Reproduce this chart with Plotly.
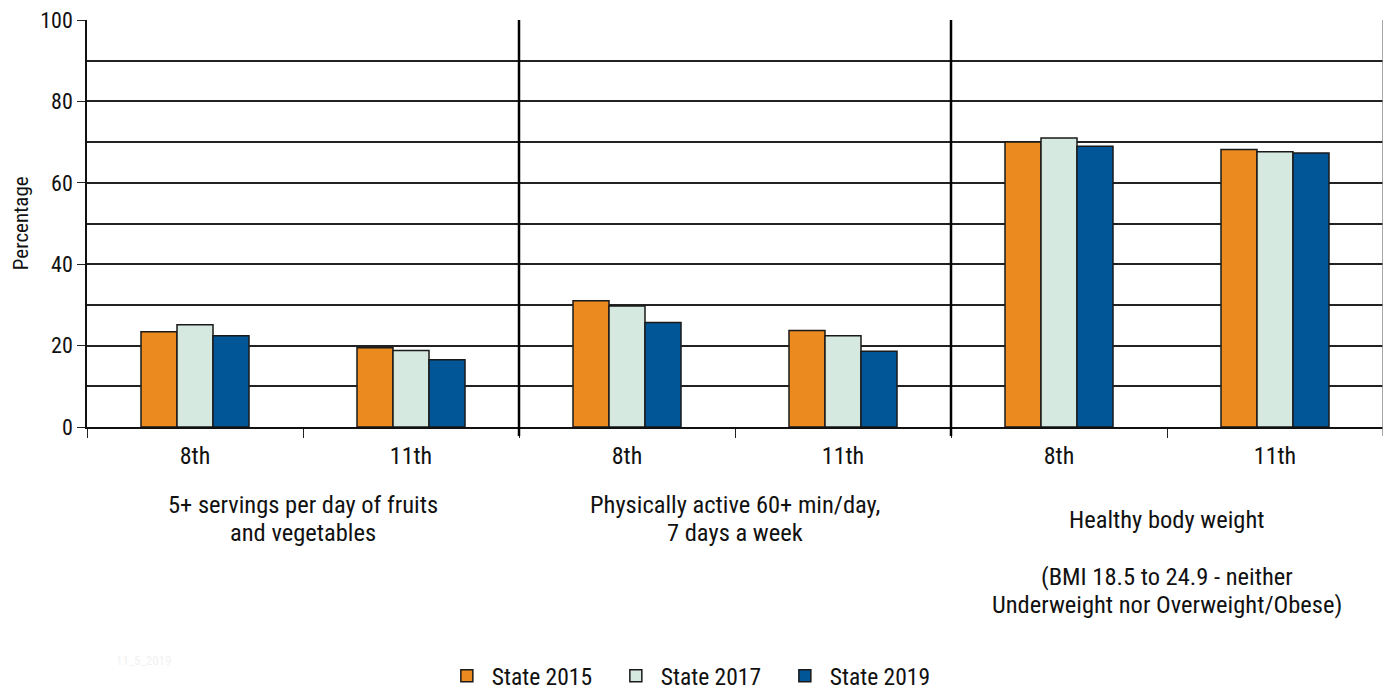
import plotly.graph_objects as go

grades = ["8th", "11th"]
indicator_ids = ["fv", "pa", "hw"]
indicator_labels = [
    ["5+ servings per day of fruits", "and vegetables"],
    ["Physically active 60+ min/day,", "7 days a week"],
    ["Healthy body weight", "", "(BMI 18.5 to 24.9 - neither", "Underweight nor Overweight/Obese)"],
]
series_names = ["State 2015", "State 2017", "State 2019"]
state_2015 = [23.4, 19.5, 31.0, 23.7, 70.0, 68.2]
state_2017 = [25.1, 18.8, 29.7, 22.4, 71.0, 67.6]
state_2019 = [22.4, 16.5, 25.7, 18.6, 69.0, 67.3]
colors = ["#EA8A1F", "#D6E9E1", "#005697"]

cat_ids = [f"{i}_{g}" for i in indicator_ids for g in grades]
cat_text = [g for i in indicator_ids for g in grades]

FONT = "Liberation Sans Narrow, Arial Narrow, Roboto Condensed, sans-serif"

fig = go.Figure()
for name, vals, col in zip(series_names, [state_2015, state_2017, state_2019], colors):
    fig.add_trace(go.Bar(
        x=cat_ids, y=vals, name=name,
        marker=dict(color=col, line=dict(color="#1a1a1a", width=1.5)),
    ))

shapes = []
for b in [1.5, 3.5]:
    shapes.append(dict(type="line", xref="x", yref="paper", x0=b, x1=b, y0=-0.022, y1=1,
                       line=dict(color="black", width=2.5)))
shapes.append(dict(type="line", xref="x", yref="paper", x0=5.5, x1=5.5, y0=-0.022, y1=1,
                   line=dict(color="#888", width=1.5)))

annotations = []
first_line_y = [-0.1916, -0.1916, -0.2285]
line_step = 0.0688
for k, (lines, y0) in enumerate(zip(indicator_labels, first_line_y)):
    for j, line in enumerate(lines):
        if not line:
            continue
        annotations.append(dict(x=2 * k + 0.5, xref="x", y=y0 - j * line_step, yref="paper",
                                text=line, showarrow=False, xanchor="center", yanchor="middle",
                                font=dict(size=24.5, color="#111", family=FONT)))
annotations.append(dict(x=0.021, xref="paper", y=-0.574, yref="paper", text="11_5_2019",
                        showarrow=False, xanchor="left", yanchor="middle",
                        font=dict(size=13, color="#f2f2f2", family=FONT)))
# y-axis title
annotations.append(dict(x=-0.0512, xref="paper", y=0.5, yref="paper", text="Percentage",
                        textangle=-90, showarrow=False, xanchor="center", yanchor="middle",
                        borderpad=0, font=dict(size=21, color="#111", family=FONT)))

# The page body adds an 8px offset; the figure is sized so that it fills the window.
fig.update_layout(
    width=1383, height=684,
    margin=dict(l=79, r=8, t=12, b=265, autoexpand=False),
    paper_bgcolor="white", plot_bgcolor="white",
    barmode="group", bargap=0.5, bargroupgap=0,
    font=dict(family=FONT, size=22, color="#111"),
    shapes=shapes, annotations=annotations,
    legend=dict(orientation="h", xref="container", x=0.497, xanchor="center",
                y=-0.612, yanchor="middle",
                font=dict(size=23.5, family=FONT), itemwidth=40,
                entrywidth=114, entrywidthmode="pixels", traceorder="normal"),
    xaxis=dict(type="category", tickmode="array", tickvals=cat_ids, ticktext=cat_text,
               tickson="boundaries", ticks="outside", ticklen=9, tickcolor="#222",
               showgrid=False, showline=True, linecolor="#111", linewidth=1.5,
               tickfont=dict(size=24), range=[-0.5, 5.5], automargin=False,
               ticklabelstandoff=6),
    yaxis=dict(range=[0, 100], dtick=20, ticks="outside", ticklen=8, tickcolor="#222",
               showgrid=True, gridcolor="#222", gridwidth=1.5,
               minor=dict(dtick=10, showgrid=True, gridcolor="#222", gridwidth=1.5),
               showline=True, linecolor="#111", linewidth=1.5, zeroline=False,
               tickfont=dict(size=22), automargin=False, ticklabeloverflow="allow"),
)

fig.write_html("out.html")
